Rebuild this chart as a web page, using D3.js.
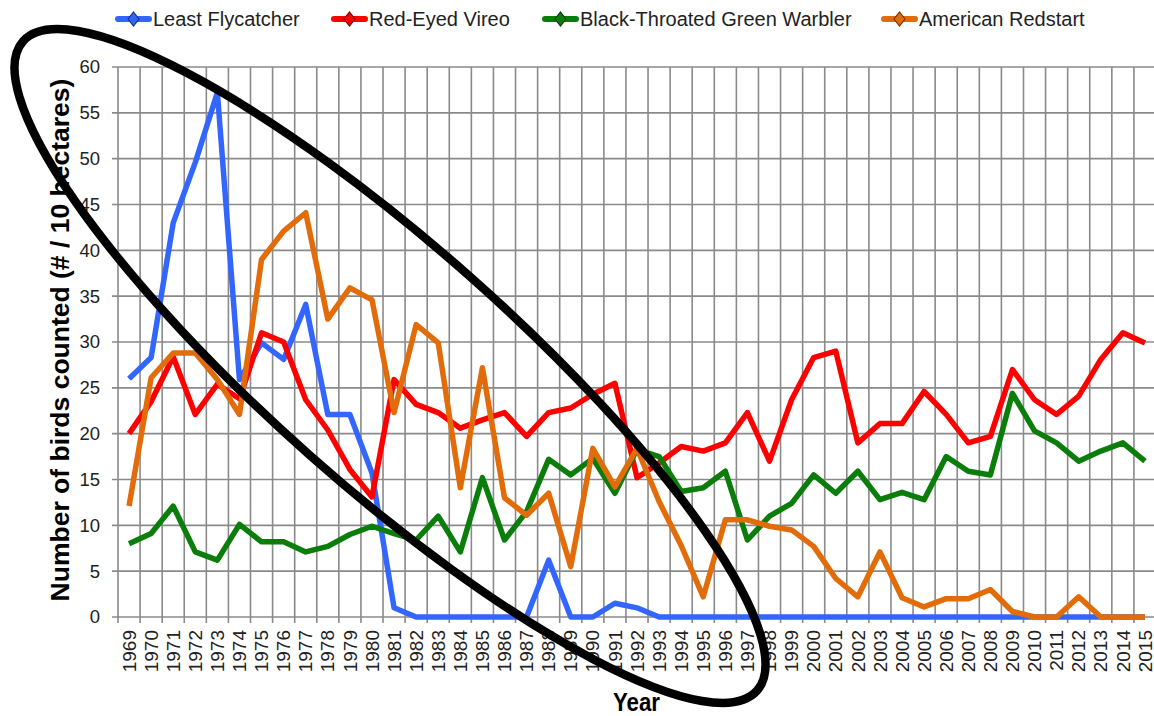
<!DOCTYPE html>
<html>
<head>
<meta charset="utf-8">
<script src="https://cdn.jsdelivr.net/npm/d3@7"></script>
<style>
  body { margin: 0; background: #fff; }
  text { font-family: "Liberation Sans", Arial, sans-serif; fill: #000; }
</style>
</head>
<body>
<script>
// years on the x axis
const years = [1969, 1970, 1971, 1972, 1973, 1974, 1975, 1976, 1977, 1978, 1979, 1980,
  1981, 1982, 1983, 1984, 1985, 1986, 1987, 1988, 1989, 1990,
  1991, 1992, 1993, 1994, 1995, 1996, 1997, 1998, 1999, 2000,
  2001, 2002, 2003, 2004, 2005, 2006, 2007, 2008, 2009, 2010,
  2011, 2012, 2013, 2014, 2015];

const yTicks = [0, 5, 10, 15, 20, 25, 30, 35, 40, 45, 50, 55, 60];

const seriesNames = ["Least Flycatcher", "Red-Eyed Vireo", "Black-Throated Green Warbler", "American Redstart"];

const leastFlycatcher = [26, 28.3, 43, 49.6, 57.2, 25.9, 29.9, 28.1, 34.1, 22.1, 22.1, 15.7,
  1, 0, 0, 0, 0, 0, 0, 6.2, 0, 0,
  1.5, 1, 0, 0, 0, 0, 0, 0, 0, 0,
  0, 0, 0, 0, 0, 0, 0, 0, 0, 0,
  0, 0, 0, 0, 0];

const redEyedVireo = [20, 23.5, 28.4, 22.1, 25.4, 23.8, 31, 30, 23.7, 20.4, 16.1, 13.1,
  25.9, 23.2, 22.3, 20.6, 21.5, 22.3, 19.7, 22.3, 22.8, 24.3,
  25.5, 15.2, 16.8, 18.6, 18.1, 19, 22.3, 17, 23.7, 28.3,
  29, 19, 21.1, 21.1, 24.6, 22.1, 19, 19.7, 27, 23.7,
  22.1, 24.1, 28.1, 31, 29.9];

const greenWarbler = [8, 9.1, 12.1, 7.1, 6.2, 10.1, 8.2, 8.2, 7.1, 7.7, 9, 9.9,
  9.1, 8.4, 11, 7.1, 15.2, 8.4, 11.5, 17.2, 15.5, 17.3,
  13.5, 18.3, 17.5, 13.7, 14.1, 15.9, 8.4, 11, 12.4, 15.5,
  13.5, 15.9, 12.8, 13.6, 12.8, 17.5, 15.9, 15.5, 24.4, 20.3,
  19, 17, 18.1, 19, 17];

const americanRedstart = [12.1, 26.1, 28.8, 28.8, 25.9, 22.1, 39, 42.1, 44.1, 32.5, 35.9, 34.6,
  22.3, 31.9, 29.9, 14.1, 27.2, 13, 11.1, 13.5, 5.5, 18.4,
  14.2, 18.4, 12.6, 7.8, 2.2, 10.6, 10.6, 9.9, 9.5, 7.7,
  4.2, 2.2, 7.1, 2.1, 1.1, 2, 2, 3, 0.6, 0,
  0, 2.2, 0, 0, 0];

const colors = ["#3366ff", "#ff0000", "#0a7d0a", "#e36c0a"];
const allSeries = [leastFlycatcher, redEyedVireo, greenWarbler, americanRedstart];

const W = 1154, H = 716;
const plotL = 118, plotR = 1156, plotT = 67, plotB = 617;

const svg = d3.select("body").append("svg").attr("width", W).attr("height", H);

const x = d3.scaleBand().domain(years).range([plotL, plotR]).padding(0);
const y = d3.scaleLinear().domain([0, 60]).range([plotB, plotT]);
const bw = x.bandwidth();

// grid (lines run past the axes as tick marks)
const grid = svg.append("g").attr("stroke", "#8a8a8a").attr("stroke-width", 1.6);
grid.selectAll("line.h").data(yTicks).enter().append("line")
  .attr("x1", plotL - 6).attr("x2", plotR)
  .attr("y1", d => y(d)).attr("y2", d => y(d));
grid.selectAll("line.v").data(years.concat(["end"])).enter().append("line")
  .attr("x1", d => d === "end" ? plotR : x(d))
  .attr("x2", d => d === "end" ? plotR : x(d))
  .attr("y1", plotT).attr("y2", plotB + 6);

// y tick labels
svg.append("g").selectAll("text").data(yTicks).enter().append("text")
  .attr("x", 100).attr("y", d => y(d)).attr("dy", "0.35em")
  .attr("text-anchor", "end").style("font-size", "18.5px").style("fill", "#222")
  .text(d => d);

// x tick labels
svg.append("g").selectAll("text").data(years).enter().append("text")
  .attr("transform", d => `translate(${x(d) + bw / 2},630) rotate(-90)`)
  .attr("dy", "0.35em").attr("text-anchor", "end").style("font-size", "19px").style("fill", "#222")
  .text(d => d);

// axis titles
svg.append("text")
  .attr("transform", "translate(69,340) rotate(-90)")
  .attr("text-anchor", "middle").style("font-size", "26.5px").style("font-weight", "bold")
  .text("Number of birds counted (# / 10 hectares)");

svg.append("text")
  .attr("x", 613).attr("y", 711)
  .attr("textLength", 47).attr("lengthAdjust", "spacingAndGlyphs")
  .style("font-size", "25px").style("font-weight", "bold")
  .text("Year");

// series lines
const line = d3.line()
  .x((d, i) => x(years[i]) + bw / 2)
  .y(d => y(d));

svg.append("g").selectAll("path").data(allSeries).enter().append("path")
  .attr("d", line)
  .attr("fill", "none")
  .attr("stroke", (d, i) => colors[i])
  .attr("stroke-width", 5.5)
  .attr("stroke-linejoin", "round");

// legend
const legendX = [116, 332, 543, 882];
const lg = svg.append("g").selectAll("g").data(seriesNames).enter().append("g")
  .attr("transform", (d, i) => `translate(${legendX[i]},19)`);
lg.append("line").attr("x1", 2).attr("x2", 33).attr("y1", 0).attr("y2", 0)
  .attr("stroke", (d, i) => colors[i]).attr("stroke-width", 6).attr("stroke-linecap", "round");
lg.append("path").attr("d", "M17.5,-7L23,0L17.5,7L12,0Z")
  .attr("fill", (d, i) => colors[i])
  .attr("stroke", (d, i) => d3.color(colors[i]).darker(2))
  .attr("stroke-width", 1.2);
lg.append("text").attr("x", 37).attr("y", 7).style("font-size", "20px").style("fill", "#222").text(d => d);

// hand-drawn style ellipse annotation
svg.append("ellipse")
  .attr("cx", 390).attr("cy", 366).attr("rx", 490).attr("ry", 120)
  .attr("transform", "rotate(41.5,390,366)")
  .attr("fill", "none").attr("stroke", "#000").attr("stroke-width", 8.5);
</script>
</body>
</html>
